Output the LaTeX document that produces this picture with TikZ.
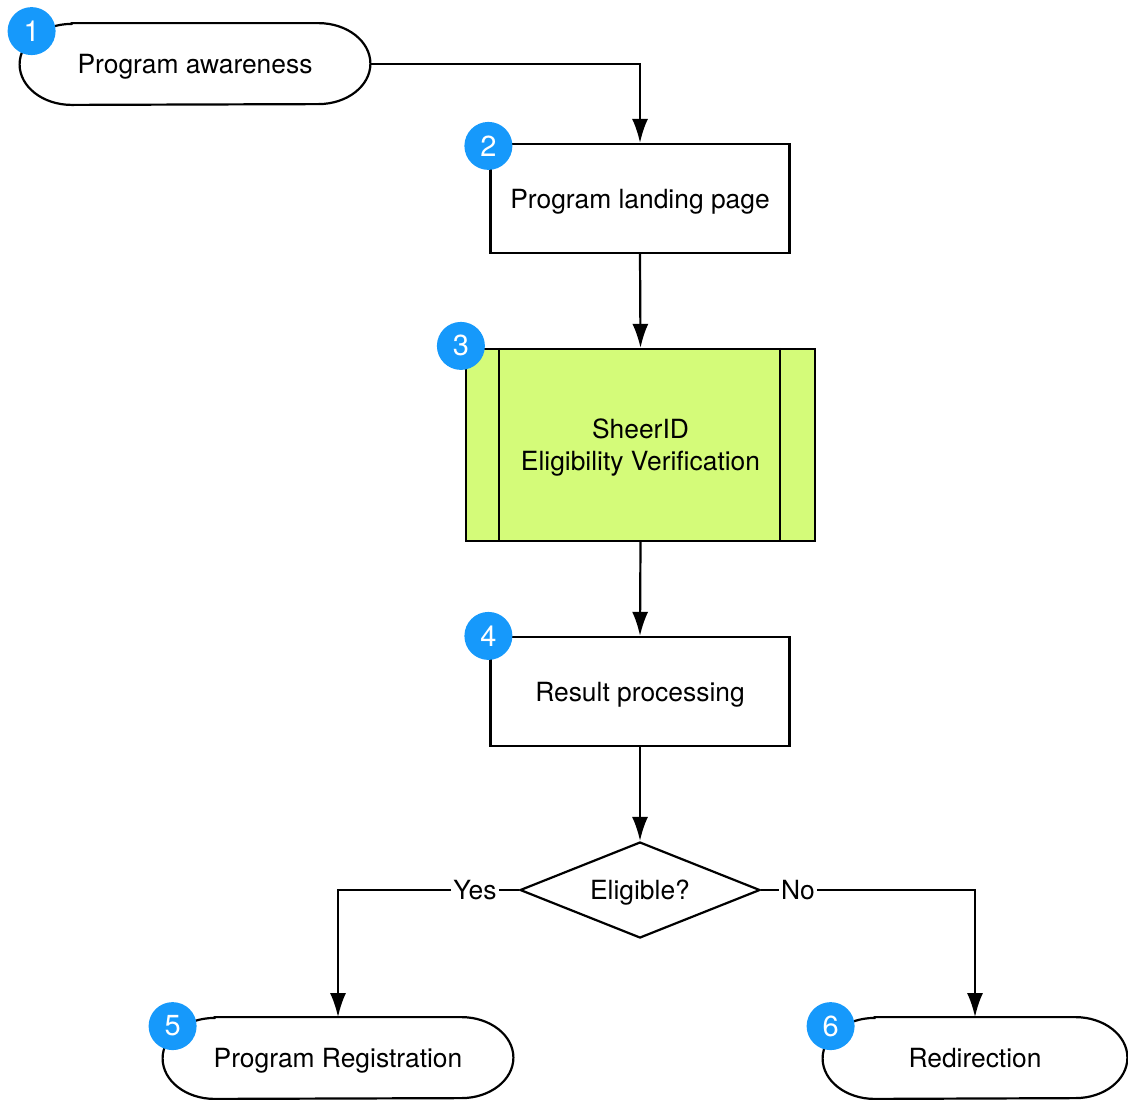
\documentclass[tikz,border=0pt]{standalone}
\usepackage{fontspec}
\setmainfont{TeX Gyre Heros}
\usetikzlibrary{arrows.meta, shapes.geometric, calc, positioning}
\definecolor{badgeBlue}{RGB}{22,153,251}
\definecolor{verifGreen}{RGB}{212,251,121}
\tikzset{
    flowText/.style={font=\fontsize{13.2}{16}\selectfont, text height=9.5pt, text depth=0pt},
    termNode/.style={flowText, draw=none, inner sep=0pt, minimum height=40.5pt},
    procNode/.style={flowText, draw, line width=1.1pt, inner sep=0pt, minimum width=149.5pt, minimum height=54.5pt},
    subNode/.style={draw, line width=1.1pt, fill=verifGreen, inner sep=0pt, minimum width=174.5pt, minimum height=96pt, align=center, text depth=0pt, font=\fontsize{13.2}{16}\selectfont},
    decNode/.style={flowText, diamond, draw, line width=1.1pt, inner sep=0pt, aspect=2.5, minimum width=120pt, minimum height=48pt},
    lblNode/.style={flowText, fill=white, inner sep=1pt},
    badge/.style={circle, fill=badgeBlue, text=white, inner sep=0pt, minimum size=24pt, font=\fontsize{14.5}{16}\selectfont},
    flowEdge/.style={-{Latex[length=12pt, width=8pt]}, line width=1.1pt},
}
\newcommand{\drawTerm}[1]{
    % terminator with elliptic ends
    \draw[line width=1.1pt] ([xshift=26pt]#1.north west) -- ([xshift=-26pt]#1.north east)
        arc[start angle=90, end angle=-90, x radius=26pt, y radius=20.25pt]
        -- ([xshift=26pt]#1.south west)
        arc[start angle=270, end angle=90, x radius=26pt, y radius=20.25pt] -- cycle;
}
\newcommand{\drawBars}[1]{
    \draw[line width=1.1pt] ([xshift=17pt]#1.north west) -- ([xshift=17pt]#1.south west);
    \draw[line width=1.1pt] ([xshift=-18pt]#1.north east) -- ([xshift=-18pt]#1.south east);
}
\newcommand{\drawLink}[2]{\draw[flowEdge] (#1) -- (#2);}

\begin{document}
\begin{tikzpicture}[x=0.5pt, y=-0.5pt]
    \useasboundingbox (0,0) rectangle (1128,1099);

    \node[termNode, minimum width=175pt] (aware) at (195,64) {Program awareness};
    \node[procNode] (landing) at (640,198.5) {Program landing page};
    \node[subNode] (verif) at (640.5,445) {SheerID\\Eligibility Verification};
    \node[procNode] (result) at (640,691.5) {Result processing};
    \node[decNode] (eligible) at (640,890) {Eligible?};
    \node[termNode, minimum width=175pt] (reg) at (338,1058) {Program Registration};
    \node[termNode, minimum width=152pt] (redir) at (975,1058) {Redirection};

    \drawTerm{aware}
    \drawTerm{reg}
    \drawTerm{redir}
    \drawBars{verif}

    \node[lblNode] (yes) at (475,890) {Yes};
    \node[lblNode] (no) at (798,890) {No};

    \draw[flowEdge] (aware.east) -| (landing.north);
    \drawLink{landing.south}{verif.north}
    \drawLink{verif.south}{result.north}
    \drawLink{result.south}{eligible.north}
    \draw[line width=1.1pt] (eligible.west) -- (yes);
    \draw[flowEdge] (yes) -| (reg.north);
    \draw[line width=1.1pt] (eligible.east) -- (no);
    \draw[flowEdge] (no) -| (redir.north);

    % step numbers
    \node[badge] (b1) at ([shift={(12,8)}]aware.north west) {1};
    \node[badge] (b2) at ([shift={(-1,3)}]landing.north west) {2};
    \node[badge] (b3) at ([shift={(-4,-2)}]verif.north west) {3};
    \node[badge] (b4) at ([shift={(-1,0)}]result.north west) {4};
    \node[badge] (b5) at ([shift={(10,9)}]reg.north west) {5};
    \node[badge] (b6) at ([shift={(8,9)}]redir.north west) {6};

\end{tikzpicture}
\end{document}
